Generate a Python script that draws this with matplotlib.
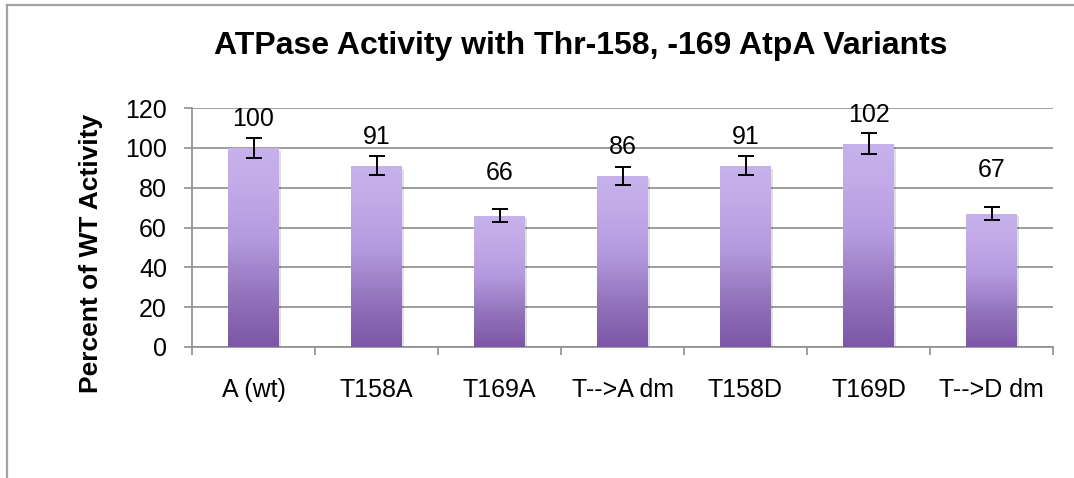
"""Bar chart of ATPase activity for the Thr-158 / Thr-169 AtpA variants."""
import numpy as np
import matplotlib
matplotlib.use('Agg')
import matplotlib.pyplot as plt
from matplotlib.colors import LinearSegmentedColormap
from matplotlib.lines import Line2D
import matplotlib.patheffects as pe

plt.rcParams['font.family'] = ['Liberation Sans', 'DejaVu Sans']

variants = ['A (wt)', 'T158A', 'T169A', 'T-->A dm', 'T158D', 'T169D', 'T-->D dm']
activity = [100, 91, 66, 86, 91, 102, 67]
errors = [5.0, 4.7, 3.4, 4.6, 4.8, 5.2, 3.4]
# distance of each value label above its bar (points)
label_gap = [12, 12, 22, 12, 12, 12, 23]

grid_col = '#8e8e8e'
bar_w = 0.41

# light lavender at the top fading to a deeper purple at the base
cmap = LinearSegmentedColormap.from_list(
    'lav', [(0.0, '#7c56a7'), (0.25, '#9273bb'), (0.55, '#b49be0'),
            (0.8, '#c2aae8'), (1.0, '#c7b2ec')])

fig = plt.figure(figsize=(10.74, 4.78), dpi=100)
ax = fig.add_axes([192 / 1074, 1 - 347 / 478, (1053 - 192) / 1074, (347 - 108) / 478])

x = np.arange(len(variants))
bars = ax.bar(x, activity, width=bar_w, color='#a58bd3', zorder=2,
              path_effects=[pe.SimplePatchShadow(offset=(2, -2), shadow_rgbFace='#000000', alpha=0.12),
                            pe.Normal()])

grad = np.linspace(0, 1, 256)[:, None]
for b in bars:
    x0, w, h = b.get_x(), b.get_width(), b.get_height()
    im = ax.imshow(grad, cmap=cmap, origin='lower', aspect='auto',
                   extent=[x0, x0 + w, 0, h], zorder=3, interpolation='bicubic')
    im.set_clip_path(b)

ax.errorbar(x, activity, yerr=errors, fmt='none', ecolor='black',
            elinewidth=1.4, capsize=5.5, capthick=1.4, zorder=4)

for xi, v, e, g in zip(x, activity, errors, label_gap):
    ax.annotate(str(v), (xi, v), xytext=(0, g), textcoords='offset points',
                ha='center', va='bottom', fontsize=18, color='black')

ax.set_xlim(-0.5, len(variants) - 0.5)
ax.set_ylim(0, 120)
ax.set_yticks(range(0, 121, 20))
ax.set_xticks(x)
ax.set_xticklabels(variants)
ax.set_xticks(np.arange(-0.5, len(variants)), minor=True)

ax.yaxis.grid(True, color=grid_col, linewidth=1.2, zorder=0)
ax.set_axisbelow(True)
for s in ['top', 'right']:
    ax.spines[s].set_visible(False)
for s in ['left', 'bottom']:
    ax.spines[s].set_color(grid_col)
    ax.spines[s].set_linewidth(1.2)

ax.tick_params(axis='y', length=6, width=1.2, color=grid_col, pad=12, labelsize=18)
ax.tick_params(axis='x', which='major', length=0, pad=22, labelsize=18)
ax.tick_params(axis='x', which='minor', length=6, width=1.2, color=grid_col)

ax.set_ylabel('Percent of WT Activity', fontsize=19, fontweight='bold', labelpad=14)
ax.yaxis.set_label_coords(-0.103, 0.39)

fig.text(581 / 1074, 1 - 46 / 478, 'ATPase Activity with Thr-158, -169 AtpA Variants',
         ha='center', va='center', fontsize=23, fontweight='bold')

# outer chart border
fig.add_artist(Line2D([7.5 / 1074, 7.5 / 1074], [0, 1 - 4.5 / 478], color='#a3a3a3',
                      linewidth=1.6, transform=fig.transFigure))
fig.add_artist(Line2D([7.5 / 1074, 1], [1 - 4.5 / 478, 1 - 4.5 / 478], color='#a3a3a3',
                      linewidth=1.6, transform=fig.transFigure))

fig.savefig('out.png', dpi=100)
